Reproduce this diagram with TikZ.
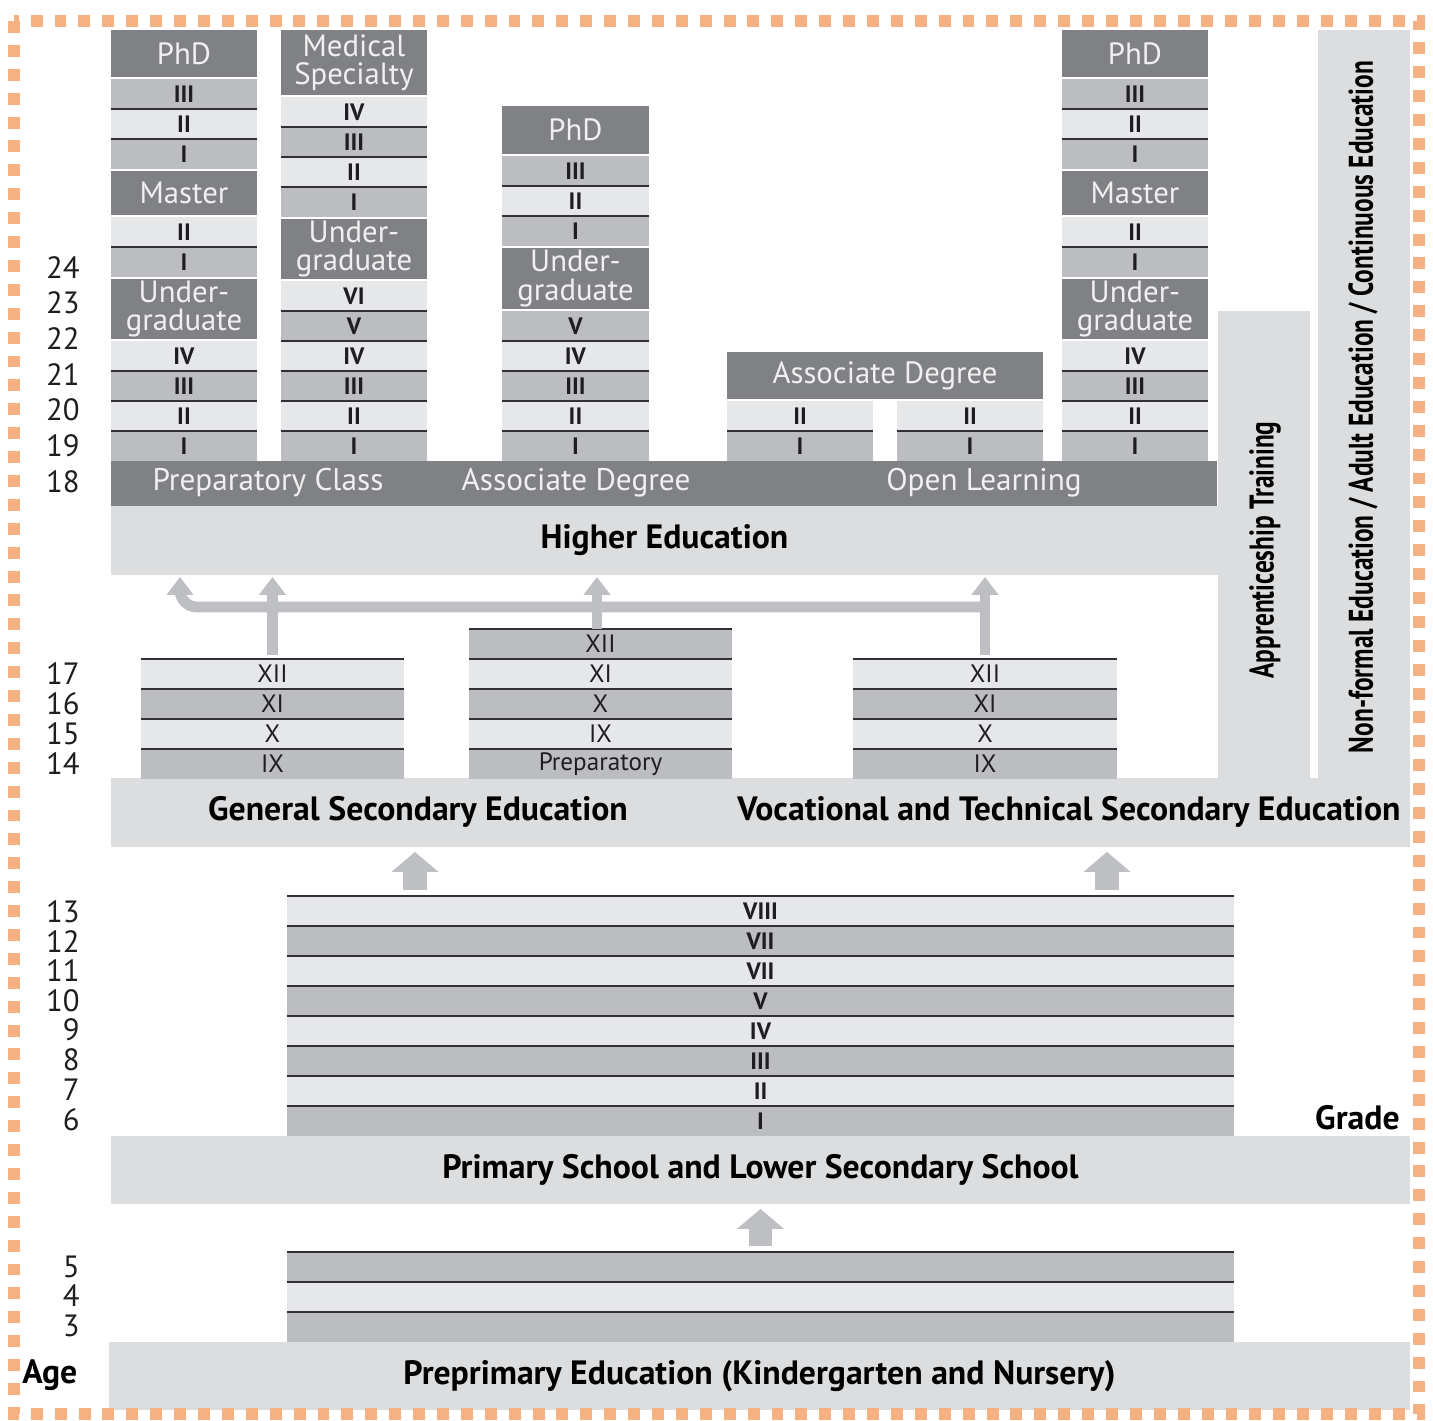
\documentclass[tikz,border=0pt]{standalone}
\usepackage{fontspec}
\setmainfont{PT Sans}
\newfontfamily\condfont[FakeStretch=0.74]{PT Sans}
\usetikzlibrary{arrows.meta}
\definecolor{hdr}{RGB}{128,129,133}
\definecolor{mid}{RGB}{188,189,192}
\definecolor{lite}{RGB}{230,231,232}
\definecolor{band}{RGB}{220,221,223}
\definecolor{arrowc}{RGB}{190,191,194}
\definecolor{sepc}{RGB}{50,50,54}
\definecolor{dashc}{RGB}{245,177,130}
\definecolor{txt}{RGB}{30,30,32}
\newcommand\bx[7]{\node[#6, minimum width=#4*0.02cm, minimum height=#5*0.02cm] (#1) at (#2,#3) {#7};}
\newcommand\stack[6]{%
  \foreach \lab/\sh [count=\i] in {#6}{%
    \pgfmathsetmacro\yy{#3+(\i-1)*30}
    \bx{#1-\i}{#2}{\yy}{#4}{30}{rowbox,fill=\sh,#5}{\lab}
    \ifnum\i>1 \draw[sepline] (#1-\i.north west) -- (#1-\i.north east);\fi
  }}
\begin{document}
\begin{tikzpicture}[x=0.02cm,y=-0.02cm,
  box/.style={anchor=north west, inner sep=0pt, outer sep=0pt, draw=none},
  hdrbox/.style={box, fill=hdr, text=white!94!black, align=center, font=\fontsize{17.5}{16}\selectfont},
  rowbox/.style={box, text=txt},
  hrow/.style={font=\fontsize{13.5}{13.5}\selectfont\bfseries},
  srow/.style={font=\fontsize{14.3}{14.3}\selectfont},
  prow/.style={font=\fontsize{13.5}{13.5}\selectfont\bfseries},
  bandbox/.style={box, fill=band},
  bandtxt/.style={font=\fontsize{19.2}{19.2}\selectfont\bfseries, text=black},
  hdrtxt/.style={font=\fontsize{17.8}{17.8}\selectfont, text=white!94!black},
  agetxt/.style={anchor=east, font=\fontsize{17.5}{17.5}\selectfont, text=txt},
  vtxt/.style={rotate=90, font=\fontsize{19.5}{19.5}\selectfont\condfont\bfseries, text=black},
  sepline/.style={draw=sepc, line width=1.1pt},
  thinarr/.style={draw=arrowc, line width=6.2pt, -{Triangle[width=0.52cm,length=0.36cm]}},
  bigarr/.style={draw=arrowc, line width=13.6pt, -{Triangle[width=0.92cm,length=0.40cm]}}
]
\fill[white] (0,0) rectangle (1433,1420);
\useasboundingbox (0,0) rectangle (1433,1420);

% right-hand columns
\bx{nonformal}{1318}{30}{92}{748}{bandbox}{}
\bx{appr}{1218}{311}{92}{467}{bandbox}{}
\node[vtxt] (nonformal-t) at (1363,407) {Non-formal Education / Adult Education / Continuous Education};
\node[vtxt] (appr-t) at (1265,550) {Apprenticeship Training};

% higher education
\bx{hb}{111}{506}{1107}{69}{bandbox,bandtxt}{Higher Education}
\bx{prep}{111}{461}{1106}{45}{hdrbox}{}
\node[hdrtxt] (prep-t1) at (268,483) {Preparatory Class};
\node[hdrtxt] (prep-t2) at (576,483) {Associate Degree};
\node[hdrtxt] (prep-t3) at (984,483) {Open Learning};

% column 1
\bx{c1-phd}{111}{30}{146}{47}{hdrbox}{PhD}
\stack{c1a}{111}{79}{146}{hrow}{III/mid,II/lite,I/mid}
\bx{c1-ma}{111}{171}{146}{44}{hdrbox}{Master}
\stack{c1b}{111}{217}{146}{hrow}{II/lite,I/mid}
\bx{c1-ug}{111}{279}{146}{60}{hdrbox}{Under-\\graduate}
\stack{c1c}{111}{341}{146}{hrow}{IV/lite,III/mid,II/lite,I/mid}

% column 2
\bx{c2-ms}{281}{30}{146}{65}{hdrbox}{Medical\\Specialty}
\stack{c2a}{281}{97}{146}{hrow}{IV/lite,III/mid,II/lite,I/mid}
\bx{c2-ug}{281}{219}{146}{60}{hdrbox}{Under-\\graduate}
\stack{c2b}{281}{281}{146}{hrow}{VI/lite,V/mid,IV/lite,III/mid,II/lite,I/mid}

% column 3
\bx{c3-phd}{502}{106}{147}{48}{hdrbox}{PhD}
\stack{c3a}{502}{156}{147}{hrow}{III/mid,II/lite,I/mid}
\bx{c3-ug}{502}{248}{147}{61}{hdrbox}{Under-\\graduate}
\stack{c3b}{502}{311}{147}{hrow}{V/mid,IV/lite,III/mid,II/lite,I/mid}

% column 4
\bx{c4-ad}{727}{352}{316}{47}{hdrbox}{Associate Degree}
\stack{c4a}{727}{401}{146}{hrow}{II/lite,I/mid}
\stack{c4b}{897}{401}{146}{hrow}{II/lite,I/mid}

% column 5
\bx{c5-phd}{1062}{30}{146}{47}{hdrbox}{PhD}
\stack{c5a}{1062}{79}{146}{hrow}{III/mid,II/lite,I/mid}
\bx{c5-ma}{1062}{171}{146}{44}{hdrbox}{Master}
\stack{c5b}{1062}{217}{146}{hrow}{II/lite,I/mid}
\bx{c5-ug}{1062}{279}{146}{60}{hdrbox}{Under-\\graduate}
\stack{c5c}{1062}{341}{146}{hrow}{IV/lite,III/mid,II/lite,I/mid}

% secondary
\bx{sb}{111}{778}{1299}{69}{bandbox}{}
\node[bandtxt] (sb-t1) at (418,812) {General Secondary Education};
\node[bandtxt] (sb-t2) at (1069,812) {Vocational and Technical Secondary Education};
\stack{g}{141}{659}{263}{srow}{XII/lite,XI/mid,X/lite,IX/mid}
\draw[sepline] (g-1.north west) -- (g-1.north east);
\stack{m}{469}{629}{263}{srow}{XII/mid,XI/lite,X/mid,IX/lite,Preparatory/mid}
\draw[sepline] (m-1.north west) -- (m-1.north east);
\stack{v}{853}{659}{264}{srow}{XII/lite,XI/mid,X/lite,IX/mid}
\draw[sepline] (v-1.north west) -- (v-1.north east);

% arrows secondary -> higher
\coordinate (junc) at (985,607);
\coordinate (lft) at (180,607);
\draw[thinarr, rounded corners=0.34cm, shorten >=1.1pt] (junc) -- (lft) -- (lft |- hb.south);
\draw[thinarr, shorten <=2.3pt, shorten >=1.1pt] (g-1.north) -- (g-1.north |- hb.south);
\draw[thinarr, shorten >=1.1pt] ([xshift=-0.07cm]m-1.north) -- ([xshift=-0.07cm]m-1.north |- hb.south);
\draw[thinarr, shorten <=2.3pt, shorten >=1.1pt] (v-1.north) -- (v-1.north |- hb.south);

% primary
\bx{pb}{111}{1136}{1299}{68}{bandbox,bandtxt}{Primary School and Lower Secondary School}
\stack{p}{287}{896}{947}{prow}{VIII/lite,VII/mid,VII/lite,V/mid,IV/lite,III/mid,II/lite,I/mid}
\draw[sepline] (p-1.north west) -- (p-1.north east);
\node[bandtxt, anchor=east, inner sep=0pt] (grade) at (1400,1118) {Grade};
\coordinate (ax1) at (415,0);
\coordinate (ax2) at (1107,0);
\draw[bigarr, shorten <=3.4pt, shorten >=2.8pt] (ax1 |- p-1.north) -- (ax1 |- sb.south);
\draw[bigarr, shorten <=3.4pt, shorten >=2.8pt] (ax2 |- p-1.north) -- (ax2 |- sb.south);

% preprimary
\bx{kb}{109}{1342}{1301}{68}{bandbox,bandtxt}{Preprimary Education (Kindergarten and Nursery)}
\stack{k}{287}{1252}{947}{prow}{/mid,/lite,/mid}
\draw[sepline] (k-1.north west) -- (k-1.north east);
\draw[bigarr, shorten <=3.4pt, shorten >=2.8pt] (k-1.north) -- (k-1.north |- pb.south);

% ages
\foreach \a/\yy in {24/268,23/303,22/339,21/375,20/410,19/446,18/482,17/674,16/704,15/734,14/764,13/912,12/942,11/971,10/1001,9/1030,8/1060,7/1090,6/1120,5/1267,4/1296,3/1326}{
  \node[agetxt, inner sep=0pt] (age-\a) at (80,\yy) {\a};
}
\node[bandtxt, anchor=west, inner sep=0pt] (age) at (22,1375) {Age};

% border
\draw[dashc, line width=6.5pt, dash pattern=on 6.8pt off 6.8pt] (14,21) rectangle (1419,1414);
\end{tikzpicture}
\end{document}
